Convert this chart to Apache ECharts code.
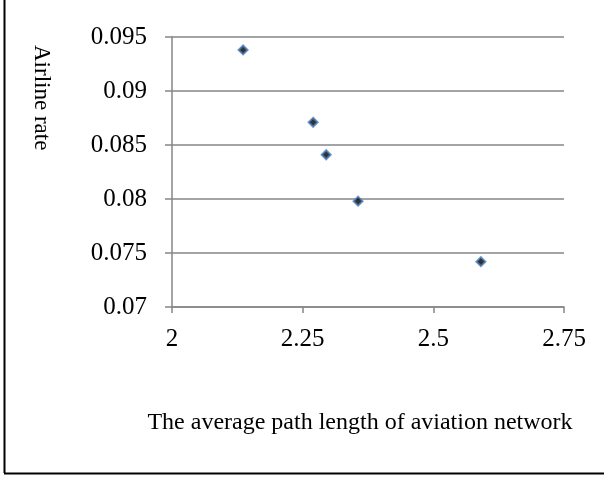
<!DOCTYPE html>
<html>
<head>
<meta charset="utf-8">
<script src="https://cdn.jsdelivr.net/npm/echarts@6/dist/echarts.min.js"></script>
<style>
html,body{margin:0;padding:0;background:#fff;}
#chart{width:604px;height:477px;}
</style>
</head>
<body>
<div id="chart"></div>
<script>
const pathLength = [2.136, 2.270, 2.295, 2.356, 2.591];
const airlineRate = [0.0938, 0.0871, 0.0841, 0.0798, 0.0742];
const xTicks = [2, 2.25, 2.5, 2.75];
const yTicks = [0.07, 0.075, 0.08, 0.085, 0.09, 0.095];
const xName = 'The average path length of aviation network';
const yName = 'Airline rate';

const points = pathLength.map((x, i) => [x, airlineRate[i]]);
const font = '"Liberation Serif", "Times New Roman", serif';
const chart = echarts.init(document.getElementById('chart'), null, {renderer: 'canvas'});
chart.setOption({
  animation: false,
  backgroundColor: '#fff',
  grid: {left: 172, right: 40, top: 37, bottom: 170},
  xAxis: {
    type: 'value',
    min: xTicks[0], max: xTicks[xTicks.length - 1], interval: 0.25,
    name: xName, nameLocation: 'middle', nameGap: 104,
    nameTextStyle: {fontFamily: font, fontSize: 24, color: '#000', padding: [0, 16, 0, 0]},
    axisLine: {show: true, lineStyle: {color: '#868686', width: 1.5}},
    axisTick: {show: true, length: 6, lineStyle: {color: '#868686', width: 1.5}},
    axisLabel: {fontFamily: font, fontSize: 25, color: '#000', margin: 20,
      formatter: v => String(v)},
    splitLine: {show: false}
  },
  yAxis: {
    type: 'value',
    min: yTicks[0], max: yTicks[yTicks.length - 1], interval: 0.005,
    axisLine: {show: true, lineStyle: {color: '#868686', width: 1.5}},
    axisTick: {show: true, length: 7, lineStyle: {color: '#868686', width: 1.5}},
    axisLabel: {fontFamily: font, fontSize: 25, color: '#000', margin: 25,
      formatter: v => String(+v.toFixed(3))},
    splitLine: {show: true, lineStyle: {color: '#868686', width: 1.5}}
  },
  series: [{
    type: 'scatter',
    data: points,
    symbol: 'diamond',
    symbolSize: 9,
    itemStyle: {color: '#000', borderColor: '#4a7ebb', borderWidth: 2}
  }],
  graphic: [
    {type: 'line', shape: {x1: 4.5, y1: 0, x2: 4.5, y2: 473}, style: {stroke: '#000', lineWidth: 2}},
    {type: 'line', shape: {x1: 4, y1: 473.5, x2: 604, y2: 473.5}, style: {stroke: '#000', lineWidth: 2}},
    {type: 'text', x: 53, y: 45, rotation: -Math.PI / 2,
      style: {text: yName, font: '23px ' + font, fill: '#000', textAlign: 'left', textVerticalAlign: 'top'}}
  ]
});
</script>
</body>
</html>
